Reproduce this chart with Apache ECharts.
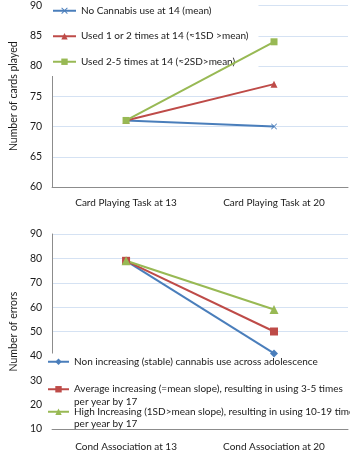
<!DOCTYPE html>
<html>
<head>
<meta charset="utf-8">
<script src="https://cdn.jsdelivr.net/npm/echarts@6/dist/echarts.min.js"></script>
<style>
  html, body { margin: 0; padding: 0; background: #fff; }
  #chart { width: 350px; height: 452px; }
</style>
</head>
<body>
<div id="chart"></div>
<script>
var topCategories = ["Card Playing Task at 13", "Card Playing Task at 20"];
var topNames = ["No Cannabis use at 14 (mean)", "Used 1 or 2 times at 14 (\u22481SD >mean)", "Used 2-5 times at 14 (\u22482SD>mean)"];
var noUse = [71, 70];
var used12 = [71, 77];
var used25 = [71, 84];

var bottomCategories = ["Cond Association at 13", "Cond Association at 20"];
var bottomNames = [
  "Non increasing (stable) cannabis use across adolescence",
  "Average increasing (=mean slope), resulting in using 3-5 times\nper year by 17",
  "High Increasing (1SD>mean slope), resulting in using 10-19 times\nper year by 17"
];
var nonIncreasing = [79, 41];
var averageIncreasing = [79, 50];
var highIncreasing = [79, 59];

var font = "Lato, sans-serif";
var txt = "#1a1a1a";
var blue = "#4a7ebb", red = "#be4b48", green = "#98b954";
var gridColor = "#d5e2f3", axisColor = "#8c8c8c";
var crossPath = "path://M0,1 L1,0 L5,4 L9,0 L10,1 L6,5 L10,9 L9,10 L5,6 L1,10 L0,9 L4,5 Z";

var chart = echarts.init(document.getElementById("chart"));

function yAxis(idx, min, max, step, name) {
  return {
    type: "value", gridIndex: idx, min: min, max: max, interval: step,
    name: name, nameLocation: "middle", nameGap: 28, nameRotate: 90,
    nameTextStyle: { color: txt, fontSize: 10.5, fontFamily: font },
    axisLine: { show: true, lineStyle: { color: axisColor } },
    axisTick: { show: false },
    axisLabel: { color: txt, fontSize: 10.5, fontFamily: font, margin: 10 },
    splitLine: { lineStyle: { color: gridColor } }
  };
}
function xAxis(idx, cats, margin) {
  return {
    type: "category", gridIndex: idx, data: cats,
    axisLine: { lineStyle: { color: axisColor } },
    axisTick: { show: false },
    axisLabel: { color: txt, fontSize: 10, fontFamily: font, margin: margin }
  };
}
function line(name, data, color, symbol, size, idx) {
  return {
    name: name, type: "line", data: data, xAxisIndex: idx, yAxisIndex: idx,
    symbol: symbol, symbolSize: size, z: 6,
    lineStyle: { color: color, width: 2 },
    itemStyle: { color: color }
  };
}
// a blank first line keeps the symbol beside the first text line
function twoLine(name) {
  return " \n" + name;
}

var legendText = { color: txt, fontSize: 10, fontFamily: font, lineHeight: 12.5 };
var option = {
  backgroundColor: "#fff",
  animation: false,
  grid: [
    { left: 44, top: 4, right: 2, height: 183 },
    { left: 43, top: 234, right: 2, height: 195 }
  ],
  xAxis: [xAxis(0, topCategories, 11), xAxis(1, bottomCategories, 13)],
  yAxis: [yAxis(0, 60, 90, 5, "Number of cards played"), yAxis(1, 10, 90, 10, "Number of errors")],
  legend: [
    {
      data: topNames, orient: "vertical", left: 45, top: 0,
      padding: [4.5, 10, 8, 7], itemGap: 13, itemWidth: 23, itemHeight: 8,
      backgroundColor: "#fff", z: 3, textStyle: legendText
    },
    {
      data: [bottomNames[0]], orient: "vertical", left: 44, top: 353.5,
      padding: [2, 400, 61, 3], itemWidth: 21, itemHeight: 8,
      backgroundColor: "#fff", z: 3, textStyle: legendText
    },
    {
      data: [bottomNames[1]], formatter: twoLine,
      orient: "vertical", left: 47, top: 370.5, padding: 0,
      itemWidth: 21, itemHeight: 8, z: 4, textStyle: legendText
    },
    {
      data: [bottomNames[2]], formatter: twoLine,
      orient: "vertical", left: 47, top: 393, padding: 0,
      itemWidth: 21, itemHeight: 8, z: 4, textStyle: legendText
    }
  ],
  series: [
    line(topNames[0], noUse, blue, crossPath, 6, 0),
    line(topNames[1], used12, red, "triangle", 7, 0),
    line(topNames[2], used25, green, "rect", 7, 0),
    line(bottomNames[0], nonIncreasing, blue, "diamond", 8, 1),
    line(bottomNames[1], averageIncreasing, red, "rect", 8, 1),
    line(bottomNames[2], highIncreasing, green, "triangle", 9, 1)
  ]
};
chart.setOption(option);
</script>
</body>
</html>
